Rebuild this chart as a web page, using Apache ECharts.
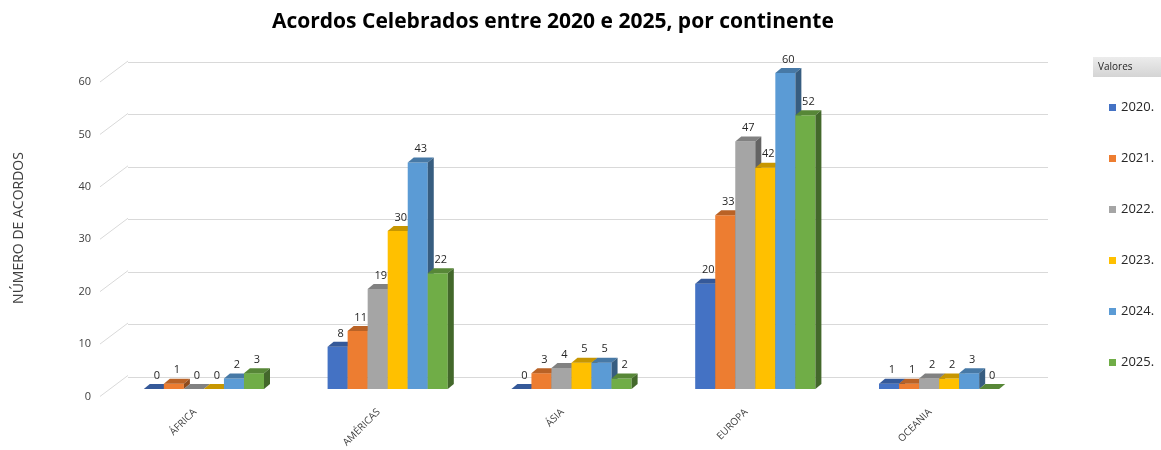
<!DOCTYPE html>
<html>
<head>
<meta charset="utf-8">
<script src="https://cdn.jsdelivr.net/npm/echarts@6/dist/echarts.min.js"></script>
<style>
  html, body { margin: 0; padding: 0; background: #fff; }
  #chart { width: 1161px; height: 450px; }
</style>
</head>
<body>
<div id="chart"></div>
<script>
// dados
var continentes = ['ÁFRICA', 'AMÉRICAS', 'ÁSIA', 'EUROPA', 'OCEANIA'];
var anos = ['2020.', '2021.', '2022.', '2023.', '2024.', '2025.'];
var v2020 = [0, 8, 0, 20, 1];
var v2021 = [1, 11, 3, 33, 1];
var v2022 = [0, 19, 4, 47, 2];
var v2023 = [0, 30, 5, 42, 2];
var v2024 = [2, 43, 5, 60, 3];
var v2025 = [3, 22, 2, 52, 0];
var yTicks = [0, 10, 20, 30, 40, 50, 60];

var valores = [v2020, v2021, v2022, v2023, v2024, v2025];
var cores = ['#4472C4', '#ED7D31', '#A5A5A5', '#FFC000', '#5B9BD5', '#70AD47'];
var font = '"Open Sans", "Noto Sans", sans-serif';

// escurece uma cor hex
function shade(hex, f) {
  var n = parseInt(hex.slice(1), 16);
  var r = Math.round(((n >> 16) & 255) * f);
  var g = Math.round(((n >> 8) & 255) * f);
  var b = Math.round((n & 255) * f);
  return 'rgb(' + r + ',' + g + ',' + b + ')';
}

// coluna 3D: frente, topo e lado
function barra(k) {
  return function (params, api) {
    var cat = api.value(0), val = api.value(1);
    var base = api.coord([cat, 0]);
    var topo = api.coord([cat, val]);
    var band = api.size([1, 0])[0];
    var w = band * 0.109;
    var dx = 6, dy = -5;
    var x0 = base[0] + (k - 3) * w, x1 = x0 + w;
    var yb = base[1], yt = topo[1];
    var c = cores[k];
    return {
      type: 'group',
      children: [
        { type: 'rect', shape: { x: x0, y: yt, width: w, height: yb - yt }, style: { fill: c } },
        { type: 'polygon', shape: { points: [[x0, yt], [x0 + dx, yt + dy], [x1 + dx, yt + dy], [x1, yt]] }, style: { fill: shade(c, 0.78) } },
        { type: 'polygon', shape: { points: [[x1, yt], [x1 + dx, yt + dy], [x1 + dx, yb + dy], [x1, yb]] }, style: { fill: shade(c, 0.6) } },
        { type: 'text', style: { text: String(val), x: (x0 + x1) / 2 + 3, y: yt + dy - 3, textAlign: 'center', textVerticalAlign: 'bottom', fill: '#262626', font: '11px ' + font } }
      ]
    };
  };
}

var series = anos.map(function (ano, k) {
  return {
    name: ano,
    type: 'custom',
    xAxisIndex: 0,
    yAxisIndex: 0,
    itemStyle: { color: cores[k] },
    renderItem: barra(k),
    encode: { x: 0, y: 1 },
    data: valores[k].map(function (v, i) { return [i, v]; })
  };
});

// linhas diagonais entre os rótulos e a grade de fundo
series.push({
  type: 'custom',
  xAxisIndex: 2,
  yAxisIndex: 2,
  silent: true,
  renderItem: function (params, api) {
    var p = api.coord([0, api.value(1)]);
    var x = params.coordSys.x - 3;
    return { type: 'line', shape: { x1: x, y1: p[1], x2: x + 28, y2: p[1] - 21 }, style: { stroke: '#d9d9d9', lineWidth: 1 } };
  },
  encode: { x: 0, y: 1 },
  data: yTicks.map(function (t) { return [0, t]; }),
  z: 1
});

var chart = echarts.init(document.getElementById('chart'));
chart.setOption({
  animation: false,
  color: cores,
  title: {
    text: 'Acordos Celebrados entre 2020 e 2025, por continente',
    left: 267,
    top: 7,
    textStyle: { fontFamily: font, fontSize: 21, fontWeight: 'bold', color: '#000' }
  },
  legend: {
    data: anos,
    orient: 'vertical',
    left: 1104,
    top: 96,
    itemWidth: 7,
    itemHeight: 7,
    itemGap: 38,
    icon: 'rect',
    textStyle: { fontFamily: font, fontSize: 13, color: '#262626' }
  },
  graphic: [
    {
      type: 'rect', left: 1093, top: 57, shape: { width: 68, height: 20 },
      style: { fill: new echarts.graphic.LinearGradient(0, 0, 0, 1, [{ offset: 0, color: '#ececec' }, { offset: 1, color: '#d4d4d4' }]) }
    },
    { type: 'text', left: 1098, top: 62, style: { text: 'Valores', fill: '#262626', font: '10px ' + font } },
    { type: 'text', x: 19, y: 228, rotation: Math.PI / 2, style: { text: 'NÚMERO DE ACORDOS', fill: '#404040', font: '14px ' + font, textAlign: 'center', textVerticalAlign: 'middle' } }
  ],
  grid: [
    { left: 112, right: 130, top: 73, bottom: 61 },
    { left: 128, right: 113, top: 62, bottom: 73 },
    { left: 103, right: 139, top: 82, bottom: 52 }
  ],
  xAxis: [
    { gridIndex: 0, type: 'category', data: continentes, show: false },
    { gridIndex: 1, type: 'value', min: 0, max: 1, show: false },
    {
      gridIndex: 2, type: 'category', data: continentes,
      axisLine: { show: false }, axisTick: { show: false },
      axisLabel: { rotate: 45, margin: 14, interval: 0, color: '#404040', fontSize: 10, fontFamily: font }
    }
  ],
  yAxis: [
    { gridIndex: 0, type: 'value', min: 0, max: 60, show: false },
    {
      gridIndex: 1, type: 'value', min: 0, max: 60, interval: 10,
      axisLine: { show: false }, axisTick: { show: false }, axisLabel: { show: false },
      splitLine: { lineStyle: { color: '#d9d9d9', width: 1 } }
    },
    {
      gridIndex: 2, type: 'value', min: 0, max: 60, interval: 10,
      axisLine: { show: false }, axisTick: { show: false }, splitLine: { show: false },
      axisLabel: { margin: 12, color: '#404040', fontSize: 11, fontFamily: font }
    }
  ],
  series: series
});
</script>
</body>
</html>
